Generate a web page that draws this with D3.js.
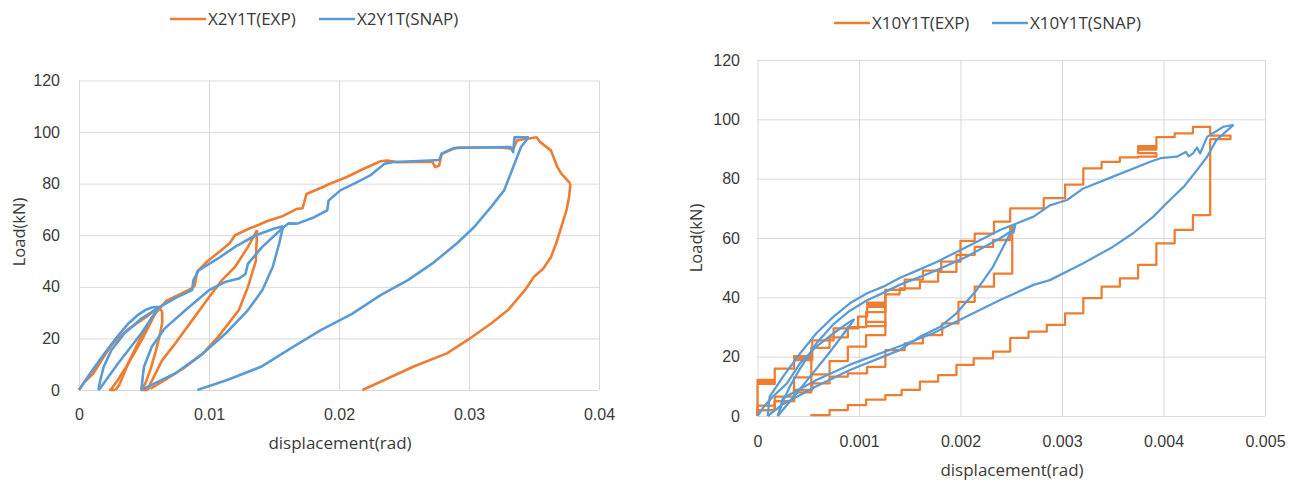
<!DOCTYPE html>
<html>
<head>
<meta charset="utf-8">
<script src="https://cdn.jsdelivr.net/npm/d3@7"></script>
<style>
body { margin: 0; background: #fff; }
svg { display: block; font-family: "Open Sans", sans-serif; }
</style>
</head>
<body>
<div id="chart"></div>
<script>
// tick values / labels
let yTicks = [0, 20, 40, 60, 80, 100, 120]
let leftXTicks = [0, 0.01, 0.02, 0.03, 0.04]
let leftXLabels = ["0", "0.01", "0.02", "0.03", "0.04"]
let rightXTicks = [0, 0.001, 0.002, 0.003, 0.004, 0.005]
let rightXLabels = ["0", "0.001", "0.002", "0.003", "0.004", "0.005"]

let leftNames = ["X2Y1T(EXP)", "X2Y1T(SNAP)"]
let rightNames = ["X10Y1T(EXP)", "X10Y1T(SNAP)"]

// ---- X2Y1T experiment, branches [rad, kN]
let expL_load1 = [[0,0],[0.0004,3],[0.0011,6.4],[0.0019,12.9],[0.0026,18],[0.0037,23.2],[0.0045,26],[0.0052,28.4],[0.0061,32]]
let expL_unload1 = [[0.0061,32],[0.0058,29],[0.0049,20],[0.0037,9.5],[0.003,4],[0.0025,0.5],[0.0024,0],[0.0028,0]]
let expL_reload1 = [[0.0028,0],[0.0031,2],[0.0039,11.6],[0.0049,22],[0.0056,28],[0.0062,31.5],[0.0064,30.5]]
let expL_drop1 = [[0.0064,30.5],[0.0064,26],[0.0062,21],[0.0059,15],[0.0055,8],[0.0051,2.5],[0.0048,0],[0.0053,0]]
let expL_reload2 = [[0.0053,0],[0.0055,2.6],[0.0064,11.6],[0.0074,18],[0.0087,27],[0.01,36],[0.011,42.6],[0.012,47.7],[0.013,55.5],[0.0137,62]]
let expL_unload2 = [[0.0137,62],[0.0136,50],[0.013,40],[0.0123,31],[0.0107,20.6],[0.0095,14],[0.0082,9],[0.0064,3.2],[0.0055,0.5]]
let expL_envelope = [[0.0062,31.5],[0.0067,34.5],[0.0077,37],[0.0087,39.5],[0.0089,40.5],[0.0091,46],[0.0099,50],[0.0109,54],[0.0116,57],[0.012,60],[0.0131,62.6],[0.0138,64],[0.0145,65.5],[0.0157,67.5],[0.0168,70.3],[0.0172,70.5],[0.0175,76],[0.0189,79],[0.0193,80],[0.0206,82.6],[0.0219,85.8],[0.0232,88.7],[0.0237,89],[0.0245,88.3],[0.026,88.4],[0.0272,88.4],[0.0274,86.4],[0.0277,87],[0.0279,91.6],[0.0288,93.5],[0.0292,94],[0.031,94],[0.0324,94],[0.0334,93.5],[0.0337,96.8],[0.0345,97.4],[0.0352,98],[0.0355,96],[0.0363,92.9],[0.0368,86.4],[0.0371,83.9],[0.0378,80]]
let expL_unload3 = [[0.0378,80],[0.0377,74.8],[0.0375,69.7],[0.0371,63.2],[0.0367,56.8],[0.0363,51.5],[0.0357,47],[0.035,43.9],[0.0343,38.7],[0.033,31],[0.0317,25.8],[0.0299,19.4],[0.0283,14.2],[0.0257,9],[0.0232,3.2],[0.0218,0]]

// ---- X2Y1T simulation
let snapL_load1 = [[0,0],[0.0008,6],[0.0015,11],[0.0023,16.5],[0.003,21],[0.0038,25.8],[0.0045,29],[0.0051,31],[0.0056,32],[0.0061,32.3]]
let snapL_unload1 = [[0.0061,32.3],[0.006,31],[0.0048,22],[0.003,10.3],[0.0016,0.5],[0.0015,0]]
let snapL_reload1 = [[0.0015,0],[0.0016,3],[0.0019,9],[0.0025,15.5],[0.0035,22],[0.0048,27.7],[0.006,31.6],[0.0074,35.6],[0.0087,38.7],[0.0088,42.6],[0.0092,46.4],[0.0107,51],[0.012,55.5],[0.0136,60],[0.0151,62.7],[0.0157,63.5]]
let snapL_unload2 = [[0.0157,63.5],[0.0154,56.8],[0.0149,47.7],[0.0141,38.7],[0.013,31],[0.0113,22],[0.0095,14],[0.0074,6.4],[0.0053,1.3],[0.0048,0]]
let snapL_reload2 = [[0.0048,0],[0.0049,5],[0.005,9],[0.0056,16.8],[0.0066,23.9],[0.0082,31],[0.01,38.7],[0.0113,42],[0.0123,43.2],[0.0128,45],[0.013,49],[0.0141,55.5],[0.0156,62.5],[0.0161,64.6],[0.0168,64.5],[0.0181,67],[0.0191,69.7],[0.0192,73.5],[0.0201,77.4],[0.0214,80.6],[0.0224,83.2],[0.0235,87.7],[0.0242,88.4],[0.0257,88.7],[0.027,89],[0.0277,89.2],[0.0279,91.6],[0.0288,93.8],[0.031,94],[0.0332,94.2],[0.0334,92.2],[0.0335,98],[0.0346,98]]
let snapL_unload3 = [[0.0346,98],[0.034,94.2],[0.0333,85.1],[0.0327,77.4],[0.0317,71],[0.0304,63.2],[0.0291,57],[0.0273,49.5],[0.0253,42.6],[0.0232,36.8],[0.021,29.5],[0.0186,23.2],[0.0165,16.8],[0.014,9],[0.0114,3.9],[0.0091,0]]

// ---- X10Y1T experiment (stepped data)
let expR_envelope = [[0,0],[0,10.8],[0.00017,12.2],[0,12.2],[0,11.5],[0.00017,16],[0.00036,18.8],[0.00054,20.2],[0.00036,20.2],[0.00036,19.5],[0.00054,25.5],[0.00075,29.5],[0.00099,33.5],[0.00108,36.8],[0.00126,38.2],[0.00108,38.2],[0.00108,37.5],[0.00126,42.5],[0.00145,46],[0.00163,49],[0.00181,52],[0.002,59],[0.00214,61.5],[0.00233,65.5],[0.00249,70],[0.00282,73.4],[0.00303,78],[0.00321,83.5],[0.00339,85.7],[0.00357,87.2],[0.00375,87.4],[0.00393,88.6],[0.00375,88.6],[0.00375,89.8],[0.00393,91],[0.00375,91],[0.00375,90.4],[0.00393,94],[0.00411,95.3],[0.00429,97.5],[0.00446,94.5],[0.00466,93.3],[0.00446,93.3],
  [0.00446,67.7],[0.00429,62.7],[0.00411,58.2],[0.00393,50.9],[0.00375,46.4],[0.00357,43.6],[0.00339,39.7],[0.00321,34.6],[0.00303,30.7],[0.00285,28.4],[0.00267,26.3],[0.00249,21.7],[0.00232,19.4],[0.00213,17.2],[0.00196,13.8],[0.00178,11.6],[0.0016,8.8],[0.00142,7],[0.00126,5.5],[0.00107,3.7],[0.00089,2],[0.00071,0.3],[0.00053,0]]
let expR_unload1 = [[0.00126,37.5],[0.00126,27.3],[0.00107,23.4],[0.00089,18.5],[0.00071,14],[0.00053,8],[0.00036,5],[0.00017,3.5],[0,0]]
let expR_block1 = [[0.00107,30.3],[0.00126,31.7],[0.00107,31.7],[0.00107,30.3],[0.00126,31]]
let expR_reload2 = [[0,0],[0,2],[0.00017,5],[0.00036,13],[0.00053,23],[0.00071,26.5],[0.00089,30],[0.00107,35],[0.00126,41],[0.0014,43],[0.0016,45.3],[0.00178,48.6],[0.00196,54.3],[0.00214,57],[0.00232,59.3],[0.00249,63.8],[0.00252,63.8]]
let expR_unload2 = [[0.00252,63.8],[0.00251,48],[0.00233,43.6],[0.00214,38.5],[0.00198,31.2],[0.00182,27.3],[0.00163,24.5],[0.00145,22.2],[0.00126,16.6],[0.00108,14.4],[0.00089,13.3],[0.00071,11],[0.00054,8.8],[0.00036,6.5],[0.00017,2],[0,0]]

// ---- X10Y1T simulation
let snapR_load1 = [[0,0],[0.00006,3],[0.00015,6.5],[0.00029,11],[0.00042,17.8],[0.00058,23.4],[0.00075,27.9],[0.00091,31.8]]
let snapR_unload1 = [[0.00091,31.8],[0.00095,32.5],[0.00091,30.5],[0.0007,21],[0.0005,12.5],[0.00032,5],[0.0002,0]]
let snapR_reload1 = [[0.0002,0],[0.00025,5],[0.00032,10],[0.00042,16],[0.00058,24.5],[0.00075,31],[0.00091,35.5],[0.00108,39],[0.00124,41.5],[0.0014,44.2],[0.00173,48.6],[0.00206,53.7],[0.00239,59.9],[0.00252,62.7],[0.00254,64.5],[0.00252,61.5]]
let snapR_unload2 = [[0.00252,62.7],[0.00249,61.6],[0.00232,50.3],[0.00216,42.5],[0.00196,34.6],[0.0018,30.1],[0.0016,26.7],[0.0014,22.2],[0.00124,20],[0.00091,15.5],[0.00058,10],[0.00025,4],[0.0001,0]]
let snapR_reload2 = [[0.0001,0],[0.00012,6.5],[0.00025,13.2],[0.00042,21.1],[0.00058,27.9],[0.00075,33.5],[0.00091,38],[0.00108,41.4],[0.00124,43.6],[0.0014,46.5],[0.00157,49],[0.00177,52],[0.00206,57],[0.00239,62.7],[0.00272,67.2],[0.00288,71],[0.00305,72.8],[0.00321,76.7],[0.00354,81.2],[0.00387,85.7],[0.00397,86.9],[0.00413,87.4],[0.00422,89],[0.00425,87.5],[0.00429,88.5],[0.00433,90.5],[0.00436,88.5],[0.00443,94.1],[0.00459,97.5],[0.00469,98.1]]
let snapR_unload3 = [[0.00469,98.1],[0.00452,93],[0.00443,87.4],[0.00433,82.9],[0.0042,77.3],[0.00403,71.7],[0.0039,67.2],[0.0037,61.6],[0.0035,57],[0.00321,51.5],[0.00288,45.8],[0.00272,44.2],[0.00239,39.1],[0.00206,33.5],[0.00173,27.9],[0.0014,23.5],[0.00124,21.5],[0.00091,17.3],[0.00058,12.1],[0.00025,6],[0.0002,0]]

let orange = "#ED7D31", blue = "#5B9BD5"

let svg = d3.select("#chart").append("svg")
    .attr("width", 1301)
    .attr("height", 483)

function drawChart(c) {
    let x = d3.scaleLinear().domain([c.xTicks[0], c.xTicks[c.xTicks.length - 1]]).range([c.left, c.right])
    let y = d3.scaleLinear().domain([0, 120]).range([c.bottom, c.top])
    let g = svg.append("g")

    g.append("g")
        .attr("transform", "translate(" + c.left + ",0)")
        .call(d3.axisLeft(y).tickValues(yTicks).tickSize(-(c.right - c.left)).tickPadding(c.yPad))
    g.append("g")
        .attr("transform", "translate(0," + c.bottom + ")")
        .call(d3.axisBottom(x).tickValues(c.xTicks).tickSize(-(c.bottom - c.top)).tickPadding(c.xPad)
            .tickFormat(function(d, i) { return c.xLabels[i]; }))
    g.selectAll(".domain").remove()
    g.selectAll(".tick line").attr("stroke", "#d9d9d9")
    g.selectAll(".tick text").attr("fill", "#3a3a3a").style("font-size", "16px")

    let expLine = d3.line().x(function(d) { return x(d[0]); }).y(function(d) { return y(d[1]); })
        .curve(c.stepped ? d3.curveStepAfter : d3.curveLinear)
    let snapLine = d3.line().x(function(d) { return x(d[0]); }).y(function(d) { return y(d[1]); })

    c.exp.forEach(function(b) {
        g.append("path").datum(b).attr("d", expLine)
            .attr("fill", "none").attr("stroke", orange).attr("stroke-width", c.lw)
            .attr("stroke-linejoin", "round")
    })
    c.snap.forEach(function(b) {
        g.append("path").datum(b).attr("d", snapLine)
            .attr("fill", "none").attr("stroke", blue).attr("stroke-width", c.lw)
            .attr("stroke-linejoin", "round")
    })

    // axis titles
    g.append("text")
        .attr("transform", "translate(" + c.yTitleX + "," + c.yTitleY + ") rotate(-90)")
        .attr("text-anchor", "middle").attr("dy", "0.35em")
        .attr("fill", "#3a3a3a").style("font-size", "16.5px")
        .text("Load(kN)")
    g.append("text")
        .attr("x", c.xTitleX).attr("y", c.xTitleY)
        .attr("text-anchor", "middle").attr("dy", "0.35em")
        .attr("fill", "#3a3a3a").style("font-size", "17px")
        .text("displacement(rad)")

    // legend
    let colors = [orange, blue]
    c.legendX.forEach(function(lx, i) {
        g.append("line")
            .attr("x1", lx).attr("x2", lx + 36)
            .attr("y1", c.legendY).attr("y2", c.legendY)
            .attr("stroke", colors[i]).attr("stroke-width", 2.5)
        g.append("text")
            .attr("x", lx + 38).attr("y", c.legendY).attr("dy", "0.35em")
            .attr("fill", "#3a3a3a").style("font-size", "17px")
            .text(c.names[i])
    })
}

drawChart({
    left: 79, right: 599, bottom: 390, top: 80.5,
    xTicks: leftXTicks, xLabels: leftXLabels, yPad: 19, xPad: 19,
    exp: [expL_load1, expL_unload1, expL_reload1, expL_drop1, expL_reload2, expL_unload2, expL_envelope, expL_unload3],
    snap: [snapL_load1, snapL_unload1, snapL_reload1, snapL_unload2, snapL_reload2, snapL_unload3],
    stepped: false, lw: 2.6,
    yTitleX: 19, yTitleY: 232, xTitleX: 340, xTitleY: 443,
    legendX: [170, 319], legendY: 19, names: leftNames
})

drawChart({
    left: 757.5, right: 1265, bottom: 416, top: 60,
    xTicks: rightXTicks, xLabels: rightXLabels, yPad: 17.5, xPad: 20,
    exp: [expR_envelope, expR_unload1, expR_block1, expR_reload2, expR_unload2],
    snap: [snapR_load1, snapR_unload1, snapR_reload1, snapR_unload2, snapR_reload2, snapR_unload3],
    stepped: true, lw: 2.25,
    yTitleX: 696, yTitleY: 238, xTitleX: 1012, xTitleY: 470,
    legendX: [834, 992], legendY: 23, names: rightNames
})
</script>
</body>
</html>
